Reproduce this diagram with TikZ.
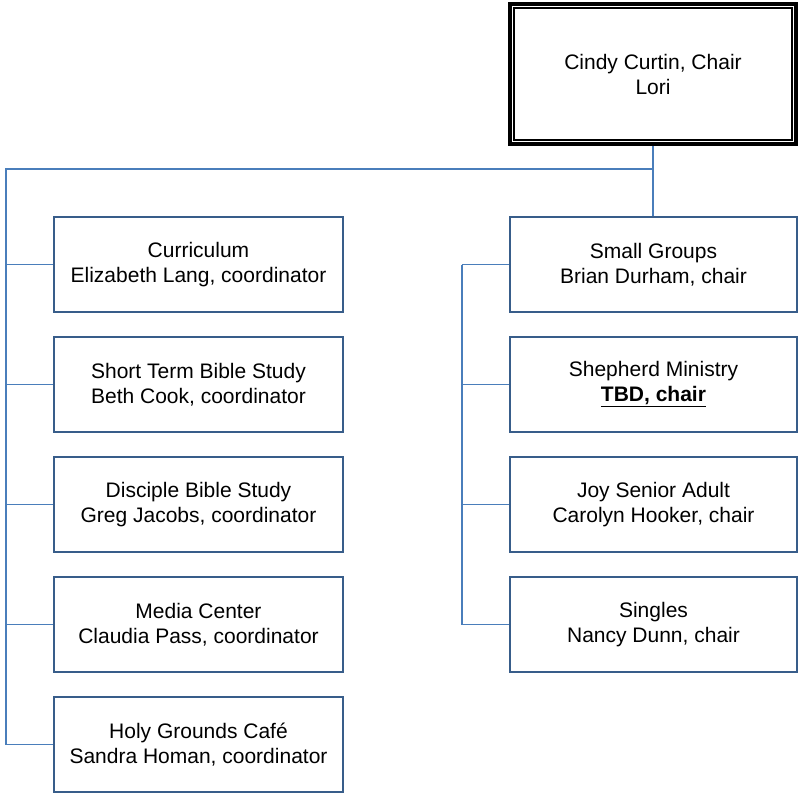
\documentclass[tikz,border=0pt]{standalone}
\usepackage{fontspec}
\setmainfont{Liberation Sans}
\definecolor{boxblue}{RGB}{56,93,138}
\definecolor{lineblue}{RGB}{74,126,187}
\begin{document}
\begin{tikzpicture}[x=1pt,y=-1pt,
  unitbox/.style={draw=boxblue,line width=2.5pt,minimum height=95pt,align=center,
    font=\fontsize{21}{25}\selectfont,inner sep=0pt},
  leftbox/.style={unitbox,minimum width=289pt},
  rightbox/.style={unitbox,minimum width=287pt},
  link/.style={draw=lineblue,line width=1.5pt}]
\useasboundingbox (0,0) rectangle (800,793);
% top box
\node[draw=black,line width=4pt,minimum width=286pt,minimum height=140pt,align=center,
  font=\fontsize{21}{25}\selectfont,inner sep=0pt] (chair) at (653,74) {Cindy Curtin, Chair\\Lori};
\draw[black,line width=1.5pt] ([shift={(6,6)}]chair.north west) rectangle ([shift={(-6,-6)}]chair.south east);
% left column
\node[leftbox] (curr)  at (198.5,264.5) {Curriculum\\Elizabeth Lang, coordinator};
\node[leftbox] (short) at (198.5,384.5) {Short Term Bible Study\\Beth Cook, coordinator};
\node[leftbox] (disc)  at (198.5,504.5) {Disciple Bible Study\\Greg Jacobs, coordinator};
\node[leftbox] (media) at (198.5,624.5) {Media Center\\Claudia Pass, coordinator};
\node[leftbox] (holy)  at (198.5,744.5) {Holy Grounds Café\\Sandra Homan, coordinator};
% right column
\node[rightbox] (small)    at (653.5,264.5) {Small Groups\\Brian Durham, chair};
\node[rightbox] (shepherd) at (653.5,384.5) {Shepherd Ministry\\\textbf{\underline{TBD, chair}}};
\node[rightbox] (joy)      at (653.5,504.5) {Joy Senior Adult\\Carolyn Hooker, chair};
\node[rightbox] (singles)  at (653.5,624.5) {Singles\\Nancy Dunn, chair};
% connectors
\coordinate (hub) at (653,169);
\coordinate (ltop) at (6,169);
\coordinate (rtrunk) at (462,264.5);
\draw[link] (chair.south) -- (chair.south |- small.north);
\draw[link] (hub) -- (ltop) -- (ltop |- holy.west);
\foreach \n in {curr,short,disc,media,holy}
  \draw[link] (ltop |- \n.west) -- (\n.west);
\draw[link] (rtrunk |- small.west) -- (rtrunk |- singles.west);
\foreach \n in {small,shepherd,joy,singles}
  \draw[link] (rtrunk |- \n.west) -- (\n.west);
\end{tikzpicture}
\end{document}
